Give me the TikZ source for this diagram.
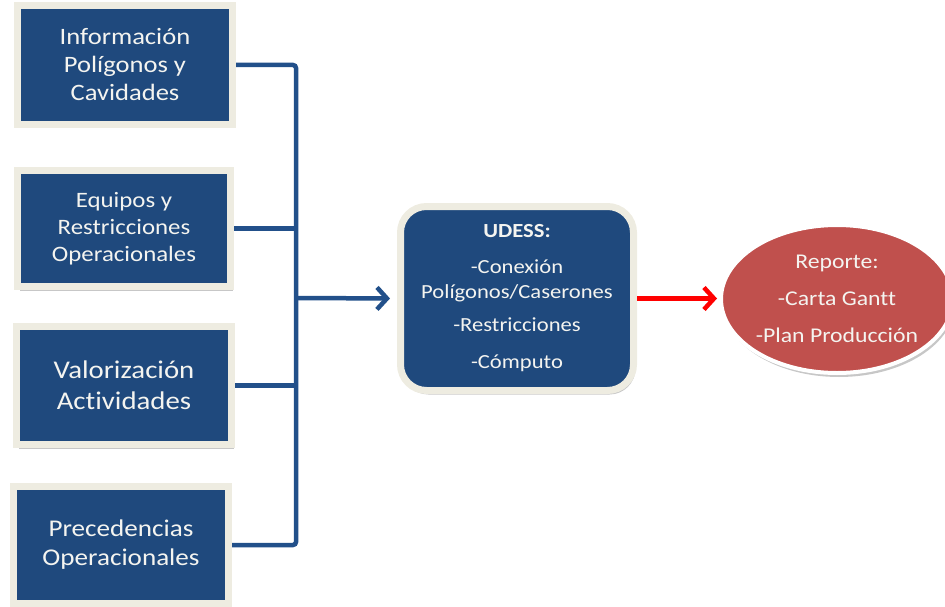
\documentclass[tikz,border=0pt]{standalone}
\usepackage{fontspec}
\setmainfont{Carlito}[FakeStretch=1.13,Ligatures=NoCommon]
\usetikzlibrary{arrows.meta,shadows,shapes.geometric}
\definecolor{boxblue}{HTML}{1F497D}
\definecolor{linkblue}{HTML}{22508A}
\definecolor{frame}{HTML}{EEECE1}
\definecolor{ellred}{HTML}{C0504D}
\definecolor{arrred}{HTML}{FF0000}
\definecolor{txt}{HTML}{F4F4F0}
\begin{document}
\begin{tikzpicture}[x=1pt,y=-1pt,
  softshadow/.style={drop shadow={shadow xshift=2pt,shadow yshift=-4pt,opacity=0.22,fill=black}},
  inbox/.style={rectangle,fill=boxblue,draw=frame,line width=7pt,inner sep=0pt,
    text=txt,align=center,softshadow},
  conn/.style={draw=linkblue,line width=4.5pt,rounded corners=3pt},
  arrowhd/.style={-{Straight Barb[length=10pt,width=22pt]}},
]
\useasboundingbox (0,0) rectangle (945,607);

\node[inbox,minimum width=215pt,minimum height=119pt,font=\fontsize{23.5}{28}\selectfont]
  (b1) at (125,65) {Información\\Polígonos y\\Cavidades};
\node[inbox,minimum width=213pt,minimum height=116pt,font=\fontsize{22}{27}\selectfont]
  (b2) at (124,228.5) {Equipos y\\Restricciones\\Operacionales};
\node[inbox,minimum width=215pt,minimum height=118pt,font=\fontsize{25.5}{31}\selectfont]
  (b3) at (124,385.5) {Valorización\\Actividades};
\node[inbox,minimum width=215pt,minimum height=117pt,font=\fontsize{24}{29}\selectfont]
  (b4) at (121,545) {Precedencias\\Operacionales};

\node[inbox,rounded corners=26pt,minimum width=233pt,minimum height=184pt,
  font=\fontsize{20}{25}\selectfont] (udess) at (517,298.5)
  {\textbf{UDESS:}\\[11pt]-Conexión\\Polígonos/Caserones\\[8pt]-Restricciones\\[12pt]-Cómputo};

\node[ellipse,fill=ellred,draw=white,line width=4pt,inner sep=0pt,
  minimum width=232pt,minimum height=148pt,text=txt,align=center,softshadow,
  font=\fontsize{21}{37}\selectfont] (rep) at (837,299)
  {Reporte:\\-Carta Gantt\\-Plan Producción};

\coordinate (bus) at (296,298);
\draw[conn] (b1.east) -- (b1.east -| bus) -- (b4.east -| bus) -- (b4.east);
\draw[conn] (b2.east) -- (b2.east -| bus);
\draw[conn] (b3.east) -- (b3.east -| bus);
\draw[draw=linkblue,line width=4.5pt,arrowhd,shorten >=7pt] (bus) -- (udess.west);
\draw[draw=arrred,line width=4.5pt,arrowhd,shorten >=2pt] (udess.east) -- (udess.east -| rep.west);
\end{tikzpicture}
\end{document}
